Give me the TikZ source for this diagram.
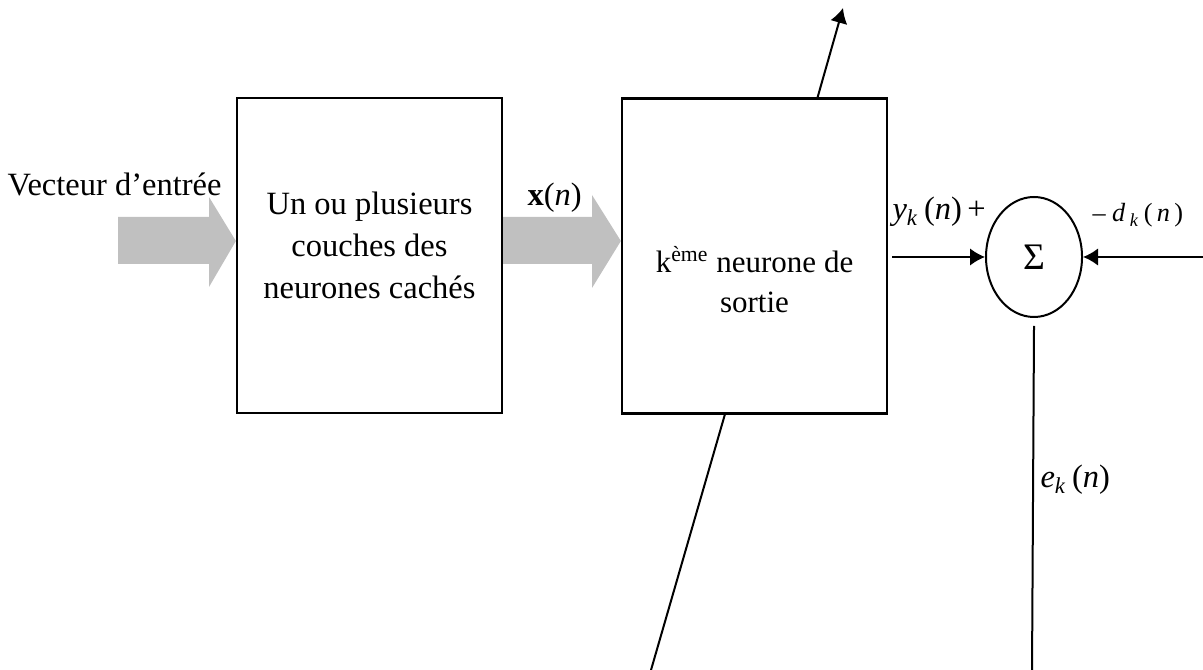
\documentclass[tikz,border=0pt]{standalone}
\usepackage{fontspec}
\setmainfont{Liberation Serif}
\usepackage{xcolor}
\usepackage{tikz}
\usetikzlibrary{arrows.meta,calc,shapes.geometric}

\definecolor{arrowgray}{RGB}{192,192,192}
\newcommand{\ksub}{\textsubscript{\textit{k}}}

\begin{document}
\begin{tikzpicture}[
    x=0.4pt, y=-0.4pt,
    box/.style={rectangle, draw, line width=0.9pt, inner sep=0pt,
                minimum width=106pt, minimum height=126pt},
    txt/.style={inner sep=0pt, align=center, font=\fontsize{13}{16.8}\selectfont},
    lbl/.style={inner sep=0pt, anchor=base west, font=\fontsize{13}{15}\selectfont},
    arrow/.style={-{Latex[length=6pt,width=7pt]}, line width=0.8pt},
    fatarrow/.style={fill=arrowgray, draw=none}
  ]
    \useasboundingbox (0,0) rectangle (1203,670);

    % blocks
    \node[box] (hidden) at (369.5,255.5) {};
    \node[box] (neuron) at (754.5,256) {};
    \node[txt] (hiddentxt) at (369.5,245) {Un ou plusieurs\\couches des\\neurones cachés};
    \node[txt, font=\fontsize{12.4}{16}\selectfont] (neurontxt) at (754.5,280)
      {k\textsuperscript{ème} neurone de\\sortie};
    \node[ellipse, draw, line width=0.8pt, inner sep=0pt,
          minimum width=38.4pt, minimum height=48pt,
          font=\fontsize{15}{17}\selectfont] (sum) at (1034,257) {Σ};

    % input
    \node[lbl, anchor=base east] (vect) at (222,196) {Vecteur d’entrée};
    \fill[fatarrow] (118,217) -- (209,217) -- (209,197) -- (hidden.west |- 0,241)
      -- (209,287) -- (209,264) -- (118,264) -- cycle;
    \fill[fatarrow] (hidden.east |- 0,217) -- (592,217) -- (592,195) -- (neuron.west |- 0,241)
      -- (592,288) -- (592,264) -- (hidden.east |- 0,264) -- cycle;
    \node[lbl] (xn) at (527,206) {\textbf{x}(\textit{n})};

    % connections
    \coordinate (yin) at (892,257);
    \coordinate (din) at (1203,257);
    \coordinate (wup) at (843,8);
    \coordinate (wdown) at (651,670);
    \coordinate (ebot) at (1032,670);

    \draw[arrow] (yin) -- (sum.west);
    \draw[arrow] (din) -- (sum.east);
    \draw[line width=0.8pt] ([yshift=-3.2pt]sum.south) -- (ebot);
    \draw[arrow] ($(neuron.north west)!0.736!(neuron.north east)$) -- (wup);
    \draw[line width=0.8pt] ($(neuron.south west)!0.389!(neuron.south east)$) -- (wdown);

    % labels
    \node[lbl] (ylbl) at (892,220) {\textit{y}\ksub\,(\textit{n})\,+};
    \node[lbl, font=\fontsize{10.5}{12}\selectfont] (dlbl) at (1092,222)
      {– \textit{d}\,\ksub\,(\,\textit{n}\,)};
    \node[lbl] (elbl) at (1040,488) {\textit{e}\ksub\,(\textit{n})};
  \end{tikzpicture}
\end{document}
